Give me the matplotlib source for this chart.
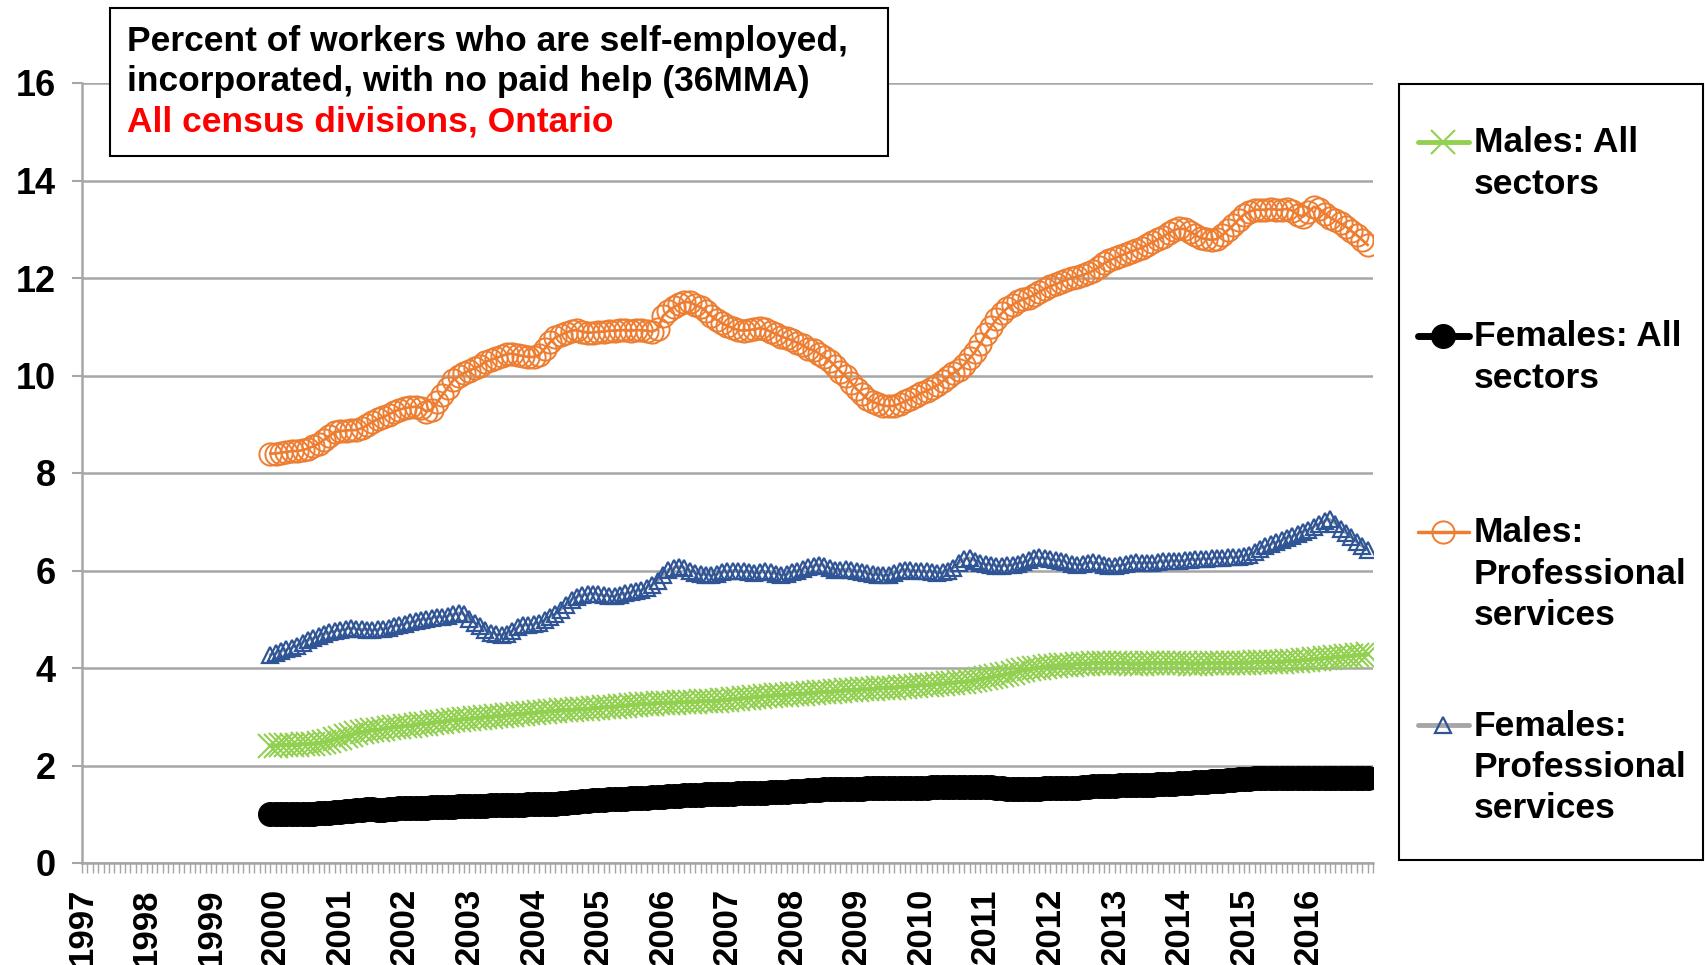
import numpy as np
import matplotlib.pyplot as plt
from matplotlib import font_manager
from matplotlib.lines import Line2D
from matplotlib.patches import Rectangle

# 36-month moving averages, one value per month, Dec 1999 .. Dec 2016
males_all = [2.41,
    2.41, 2.42, 2.42, 2.43, 2.43, 2.44, 2.44, 2.45, 2.46, 2.48, 2.51, 2.54,  # 2000
    2.57, 2.60, 2.63, 2.66, 2.68, 2.70, 2.72, 2.73, 2.75, 2.77, 2.78, 2.80,  # 2001
    2.81, 2.82, 2.84, 2.85, 2.86, 2.88, 2.89, 2.90, 2.92, 2.93, 2.94, 2.95,  # 2002
    2.96, 2.97, 2.98, 2.99, 3.00, 3.01, 3.02, 3.03, 3.04, 3.05, 3.06, 3.07,  # 2003
    3.08, 3.09, 3.10, 3.11, 3.12, 3.13, 3.13, 3.14, 3.15, 3.15, 3.16, 3.17,  # 2004
    3.18, 3.19, 3.20, 3.21, 3.22, 3.23, 3.24, 3.25, 3.26, 3.26, 3.27, 3.28,  # 2005
    3.28, 3.29, 3.29, 3.30, 3.30, 3.31, 3.31, 3.32, 3.32, 3.32, 3.33, 3.34,  # 2006
    3.35, 3.36, 3.37, 3.38, 3.39, 3.40, 3.41, 3.42, 3.43, 3.44, 3.44, 3.45,  # 2007
    3.46, 3.47, 3.47, 3.48, 3.49, 3.50, 3.51, 3.51, 3.52, 3.53, 3.54, 3.54,  # 2008
    3.55, 3.56, 3.56, 3.57, 3.58, 3.59, 3.60, 3.60, 3.61, 3.62, 3.63, 3.64,  # 2009
    3.65, 3.65, 3.66, 3.67, 3.68, 3.69, 3.70, 3.71, 3.72, 3.73, 3.75, 3.77,  # 2010
    3.79, 3.81, 3.83, 3.85, 3.87, 3.90, 3.93, 3.95, 3.97, 3.99, 4.01, 4.03,  # 2011
    4.04, 4.05, 4.06, 4.07, 4.07, 4.08, 4.09, 4.09, 4.10, 4.10, 4.10, 4.10,  # 2012
    4.10, 4.10, 4.10, 4.09, 4.09, 4.09, 4.10, 4.10, 4.10, 4.10, 4.10, 4.10,  # 2013
    4.10, 4.10, 4.09, 4.09, 4.09, 4.10, 4.10, 4.10, 4.10, 4.10, 4.10, 4.11,  # 2014
    4.11, 4.11, 4.12, 4.12, 4.12, 4.13, 4.13, 4.13, 4.14, 4.14, 4.15, 4.16,  # 2015
    4.17, 4.18, 4.19, 4.20, 4.21, 4.22, 4.23, 4.24, 4.25, 4.26, 4.27, 4.28]  # 2016

females_all = [1.00,
    1.00, 1.00, 1.00, 1.00, 1.00, 1.00, 1.01, 1.01, 1.02, 1.02, 1.03, 1.04,
    1.05, 1.06, 1.07, 1.08, 1.09, 1.10, 1.10, 1.09, 1.09, 1.10, 1.11, 1.12,
    1.12, 1.12, 1.13, 1.13, 1.13, 1.14, 1.14, 1.14, 1.15, 1.15, 1.16, 1.16,
    1.17, 1.17, 1.17, 1.17, 1.18, 1.18, 1.18, 1.19, 1.19, 1.20, 1.20, 1.21,
    1.21, 1.21, 1.22, 1.22, 1.22, 1.23, 1.24, 1.25, 1.26, 1.27, 1.28, 1.29,
    1.30, 1.30, 1.31, 1.31, 1.32, 1.32, 1.33, 1.33, 1.34, 1.34, 1.35, 1.35,
    1.36, 1.37, 1.38, 1.38, 1.39, 1.39, 1.40, 1.40, 1.41, 1.41, 1.41, 1.42,
    1.42, 1.42, 1.43, 1.43, 1.43, 1.44, 1.44, 1.44, 1.45, 1.45, 1.46, 1.46,
    1.47, 1.47, 1.48, 1.49, 1.50, 1.50, 1.51, 1.51, 1.52, 1.52, 1.52, 1.52,
    1.52, 1.52, 1.53, 1.53, 1.53, 1.53, 1.53, 1.54, 1.54, 1.54, 1.54, 1.54,
    1.54, 1.54, 1.55, 1.55, 1.55, 1.55, 1.56, 1.56, 1.56, 1.56, 1.56, 1.56,
    1.56, 1.55, 1.54, 1.53, 1.52, 1.51, 1.51, 1.51, 1.51, 1.52, 1.52, 1.53,
    1.53, 1.53, 1.53, 1.53, 1.53, 1.54, 1.55, 1.56, 1.57, 1.57, 1.58, 1.58,
    1.58, 1.59, 1.59, 1.60, 1.60, 1.60, 1.61, 1.61, 1.62, 1.62, 1.63, 1.63,
    1.64, 1.64, 1.65, 1.66, 1.67, 1.67, 1.68, 1.68, 1.69, 1.70, 1.71, 1.72,
    1.73, 1.73, 1.74, 1.74, 1.74, 1.75, 1.75, 1.75, 1.75, 1.75, 1.75, 1.75,
    1.75, 1.75, 1.75, 1.75, 1.75, 1.75, 1.75, 1.75, 1.75, 1.75, 1.75, 1.75]

males_prof = [8.40,
    8.40, 8.42, 8.43, 8.45, 8.45, 8.47, 8.50, 8.55, 8.60, 8.68, 8.76, 8.84,
    8.86, 8.87, 8.88, 8.88, 8.92, 8.98, 9.05, 9.10, 9.15, 9.20, 9.26, 9.30,
    9.33, 9.35, 9.36, 9.34, 9.26, 9.30, 9.45, 9.60, 9.75, 9.90, 9.98, 10.05,
    10.10, 10.15, 10.20, 10.28, 10.32, 10.36, 10.40, 10.44, 10.45, 10.42, 10.40, 10.38,
    10.38, 10.42, 10.55, 10.68, 10.78, 10.83, 10.88, 10.92, 10.93, 10.90, 10.88, 10.88,
    10.90, 10.90, 10.92, 10.92, 10.93, 10.93, 10.92, 10.93, 10.93, 10.92, 10.90, 10.95,
    11.22, 11.32, 11.40, 11.47, 11.51, 11.50, 11.45, 11.40, 11.32, 11.22, 11.14, 11.07,
    11.02, 10.97, 10.93, 10.92, 10.93, 10.95, 10.97, 10.95, 10.90, 10.85, 10.80, 10.76,
    10.72, 10.67, 10.62, 10.55, 10.52, 10.45, 10.38, 10.30, 10.20, 10.08, 9.98, 9.85,
    9.72, 9.62, 9.52, 9.46, 9.42, 9.38, 9.37, 9.38, 9.42, 9.47, 9.52, 9.58,
    9.64, 9.68, 9.74, 9.80, 9.88, 9.96, 10.05, 10.12, 10.22, 10.35, 10.48, 10.65,
    10.85, 11.00, 11.15, 11.28, 11.38, 11.45, 11.52, 11.56, 11.60, 11.65, 11.72, 11.78,
    11.83, 11.87, 11.92, 11.96, 12.00, 12.03, 12.06, 12.10, 12.15, 12.22, 12.30, 12.36,
    12.41, 12.45, 12.50, 12.54, 12.58, 12.62, 12.68, 12.73, 12.79, 12.85, 12.92, 12.98,
    13.02, 13.00, 12.95, 12.88, 12.82, 12.80, 12.78, 12.80, 12.88, 12.98, 13.08, 13.20,
    13.30, 13.36, 13.40, 13.40, 13.40, 13.42, 13.40, 13.40, 13.42, 13.38, 13.30, 13.26,
    13.35, 13.46, 13.42, 13.32, 13.24, 13.18, 13.12, 13.05, 12.96, 12.88, 12.78, 12.68]

females_prof = [4.27,
    4.30, 4.34, 4.38, 4.42, 4.46, 4.52, 4.57, 4.61, 4.65, 4.69, 4.73, 4.76,
    4.78, 4.80, 4.82, 4.80, 4.79, 4.78, 4.78, 4.79, 4.81, 4.83, 4.86, 4.88,
    4.91, 4.94, 4.97, 4.99, 5.01, 5.03, 5.05, 5.05, 5.07, 5.10, 5.13, 5.10,
    5.00, 4.93, 4.86, 4.78, 4.72, 4.69, 4.68, 4.70, 4.76, 4.84, 4.88, 4.89,
    4.90, 4.92, 4.98, 5.05, 5.11, 5.20, 5.30, 5.40, 5.46, 5.50, 5.52, 5.52,
    5.51, 5.49, 5.48, 5.47, 5.50, 5.53, 5.55, 5.57, 5.60, 5.65, 5.70, 5.78,
    5.90, 6.02, 6.06, 6.08, 6.06, 6.00, 5.95, 5.93, 5.91, 5.90, 5.92, 5.96,
    5.99, 6.00, 6.00, 5.98, 5.96, 5.95, 5.96, 5.98, 5.97, 5.93, 5.90, 5.92,
    5.96, 6.00, 6.04, 6.07, 6.10, 6.12, 6.10, 6.06, 6.02, 6.02, 6.03, 6.02,
    6.00, 5.97, 5.94, 5.92, 5.91, 5.90, 5.90, 5.94, 6.00, 6.02, 6.01, 6.00,
    5.99, 5.98, 5.97, 5.95, 5.96, 6.00, 6.06, 6.15, 6.24, 6.26, 6.20, 6.15,
    6.13, 6.11, 6.10, 6.10, 6.11, 6.12, 6.14, 6.17, 6.21, 6.25, 6.27, 6.26,
    6.24, 6.22, 6.20, 6.17, 6.14, 6.12, 6.13, 6.15, 6.17, 6.15, 6.12, 6.10,
    6.10, 6.11, 6.13, 6.15, 6.17, 6.16, 6.15, 6.16, 6.18, 6.20, 6.20, 6.19,
    6.20, 6.21, 6.22, 6.23, 6.24, 6.24, 6.25, 6.25, 6.26, 6.27, 6.27, 6.28,
    6.29, 6.32, 6.38, 6.45, 6.50, 6.54, 6.58, 6.62, 6.66, 6.70, 6.75, 6.79,
    6.84, 6.90, 6.96, 7.02, 7.05, 6.96, 6.86, 6.77, 6.68, 6.58, 6.50, 6.43]

years = list(range(1997, 2017))
first_month = 35          # Dec 1999, counted in months from Jan 1997
n_months = 240

labels = ['Males: All\nsectors', 'Females: All\nsectors',
          'Males:\nProfessional\nservices', 'Females:\nProfessional\nservices']

green = '#92D050'
orange = '#ED7D31'
navy = '#2F5597'
grid_grey = '#A6A6A6'

W, H = 1706, 965
fig = plt.figure(figsize=(W / 100, H / 100), dpi=100)


def fx(px):
    return px / W


def fy(py):
    return 1 - py / H


ax = fig.add_axes([fx(82), fy(863), fx(1373 - 82), (863 - 83) / H])

x = np.arange(first_month, first_month + len(males_all))

styles = [
    dict(color=green, lw=3, marker='x', ms=17, mew=1.5, mec=green),
    dict(color='black', lw=5, marker='o', ms=17, mfc='black', mec='black'),
    dict(color=orange, lw=2, marker='o', ms=16, mfc='none', mec=orange, mew=1.4),
    dict(color=grid_grey, lw=2, marker='^', ms=11, mfc='none', mec=navy, mew=1.6),
]
series = [males_all, females_all, males_prof, females_prof]
for vals, st in zip(series, styles):
    ax.plot(x, vals, **st)

ax.set_xlim(0, n_months)
ax.set_ylim(0, 16)
ax.set_yticks(range(0, 17, 2))
ax.set_xticks([12 * i for i in range(len(years))])
ax.set_xticklabels([str(y) for y in years], rotation=90)
ax.set_xticks(range(0, n_months + 1), minor=True)

ax.grid(axis='y', color=grid_grey, lw=1.8)
ax.set_axisbelow(True)
for s in ['top', 'right']:
    ax.spines[s].set_visible(False)
for s in ['left', 'bottom']:
    ax.spines[s].set_color(grid_grey)
    ax.spines[s].set_linewidth(1.8)

ax.tick_params(axis='y', length=7, width=1.5, color=grid_grey, pad=12,
               labelsize=26)
ax.tick_params(axis='x', which='both', length=7, width=1, color=grid_grey,
               direction='out', pad=11, labelsize=25)
for lab in ax.get_xticklabels() + ax.get_yticklabels():
    lab.set_fontweight('bold')
    lab.set_family('Liberation Sans')

# title box
names = {f.name for f in font_manager.fontManager.ttflist}
if 'Liberation Sans Narrow' in names:
    tfam, tsize = 'Liberation Sans Narrow', 27
else:
    tfam, tsize = 'Liberation Sans', 25.5
fig.add_artist(Rectangle((fx(110), fy(156)), fx(888 - 110), (156 - 8) / H,
                         transform=fig.transFigure, fc='white', ec='black', lw=1.5))
title_lines = [('Percent of workers who are self-employed,', 'black'),
               ('incorporated, with no paid help (36MMA)', 'black'),
               ('All census divisions, Ontario', 'red')]
for i, (txt, col) in enumerate(title_lines):
    fig.text(fx(127), fy(42 + 40 * i), txt, color=col, fontsize=tsize,
             fontweight='bold', family=tfam, va='center', ha='left')

# legend box
fig.add_artist(Rectangle((fx(1399), fy(860)), fx(1703 - 1399), (860 - 84) / H,
                         transform=fig.transFigure, fc='white', ec='black', lw=1.5))
entry_y = [142, 336, 532, 725]
for lab, st, ey in zip(labels, styles, entry_y):
    line_st = {k: st[k] for k in ['color', 'lw']}
    line_st['lw'] = 2.5 if st['color'] == orange else max(st['lw'], 3.5)
    fig.add_artist(Line2D([fx(1418), fx(1469)], [fy(ey), fy(ey)],
                          transform=fig.transFigure, solid_capstyle='round', **line_st))
    mk = dict(st)
    mk['ls'] = 'none'
    fig.add_artist(Line2D([fx(1443)], [fy(ey)], transform=fig.transFigure, **mk))
    fig.text(fx(1474), fy(ey - 15.5), lab, fontsize=25.5, fontweight='bold',
             family='Liberation Sans', va='top', ha='left', linespacing=1.32)

fig.savefig('out.png', dpi=100)
